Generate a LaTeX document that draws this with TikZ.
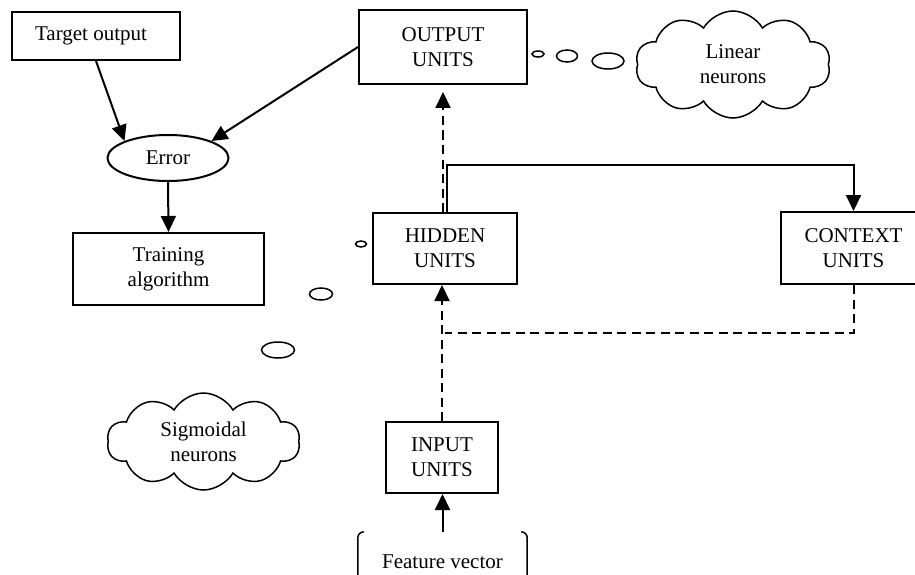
\documentclass[tikz,border=0pt]{standalone}
\usepackage{fontspec}
\setmainfont{Liberation Serif}
\usetikzlibrary{shapes.geometric,shapes.symbols,arrows.meta}
\begin{document}
\begin{tikzpicture}[x=1pt,y=-1pt,
  every node/.style={font=\fontsize{21}{25}\selectfont, align=center},
  unitbox/.style={draw, line width=2pt, inner sep=0pt},
  oval/.style={ellipse, draw, line width=2pt, inner sep=0pt},
  bubble/.style={ellipse, draw, line width=1.5pt, inner sep=0pt},
  thought/.style={cloud, draw, line width=1.5pt, cloud puffs=10, cloud puff arc=120, aspect=1.8, inner sep=0pt},
  tip/.style={-{Triangle[length=16pt,width=15pt]}},
  conn/.style={line width=2pt, tip},
  dashline/.style={line width=2pt, dash pattern=on 9pt off 5.5pt},
  dasharrow/.style={dashline, tip}
]
\useasboundingbox (0,0) rectangle (915,575);
\clip (0,0) rectangle (915,575);

% boxes and ovals
\node[unitbox, minimum width=168pt, minimum height=48pt] (tgt) at (96,36) {Target output\hspace*{10pt}};
\node[unitbox, minimum width=168pt, minimum height=74pt] (out) at (443,47) {OUTPUT\\UNITS};
\node[oval, minimum width=121pt, minimum height=46pt] (err) at (168,158) {Error};
\node[unitbox, minimum width=191pt, minimum height=72pt] (train) at (168.5,269) {Training\\algorithm};
\node[unitbox, minimum width=144pt, minimum height=71pt] (hid) at (445,248.5) {HIDDEN\\UNITS};
\node[unitbox, minimum width=145pt, minimum height=72pt] (ctx) at (853.5,248) {CONTEXT\\UNITS};
\node[unitbox, minimum width=112pt, minimum height=71pt] (inp) at (442,457.5) {INPUT\\UNITS};
\node[minimum width=169pt, minimum height=60pt, inner sep=0pt] (fv) at (442.5,562) {Feature vector};

% bracket pair round the feature vector
\draw[line width=1.5pt, rounded corners=6pt] ([xshift=6pt]fv.north west) -- (fv.north west) -- (fv.south west);
\draw[line width=1.5pt, rounded corners=6pt] ([xshift=-6pt]fv.north east) -- (fv.north east) -- (fv.south east);

% thought clouds with their bubbles
\node[thought, minimum width=195pt, minimum height=107pt] (lin) at (733,64.5) {Linear\\neurons};
\node[bubble, minimum width=12pt, minimum height=6pt] (lb1) at (538,54) {};
\node[bubble, minimum width=21pt, minimum height=12pt] (lb2) at (567,56) {};
\node[bubble, minimum width=32pt, minimum height=16pt] (lb3) at (608,61) {};

\node[thought, minimum width=193pt, minimum height=97pt] (sig) at (203.5,441.5) {Sigmoidal\\neurons};
\node[bubble, minimum width=11pt, minimum height=6pt] (sb1) at (361,244) {};
\node[bubble, minimum width=23pt, minimum height=12pt] (sb2) at (321,294) {};
\node[bubble, minimum width=33pt, minimum height=16pt] (sb3) at (278,350) {};

% error path
\draw[conn] (tgt.south) -- (err.north west);
\draw[conn] (out.west) -- (err.north east);
\draw[conn] (err.south) -- (train.north);

% forward and recurrent connections
\coordinate (bus) at (853.5,165);
\coordinate (fb) at (445,333);
\draw[dasharrow, shorten >=7pt] (hid.north -| out.south) -- (out.south);
\draw[conn] ([xshift=2pt]hid.north) |- (bus) -- (ctx.north);
\draw[dashline] (ctx.south) |- (fb);
\draw[dasharrow] (inp.north) -- (inp.north |- hid.south);
\draw[conn] (fv.north) -- (fv.north |- inp.south);
\end{tikzpicture}
\end{document}
